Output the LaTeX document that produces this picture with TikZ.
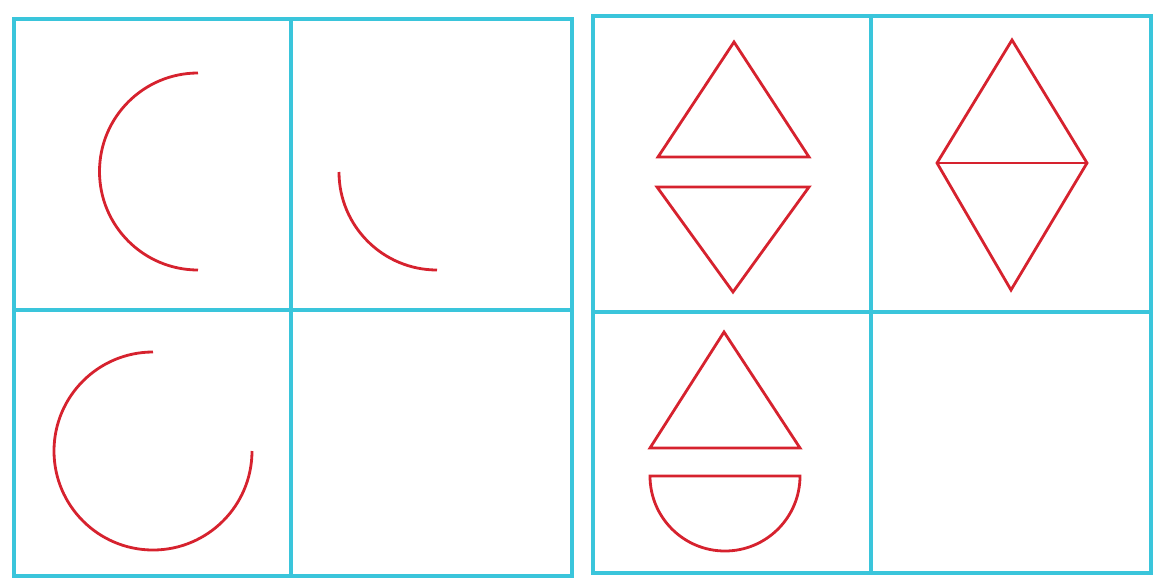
\documentclass[tikz,border=0pt]{standalone}
\usepackage{xcolor}
\usepackage{tikz}
\definecolor{GridCyan}{RGB}{58,197,219}
\definecolor{FigRed}{RGB}{214,34,46}
\tikzset{
  gridline/.style={draw=GridCyan, line width=4.2pt},
  figline/.style={draw=FigRed, line width=2.8pt}
}

\begin{document}
\begin{tikzpicture}[x=1pt,y=-1pt]
  \useasboundingbox (0,0) rectangle (1155,586);

  % ----- TWO GRIDS (frame, middle cross) -----
  \foreach \xa/\xb/\ya/\yb/\xm/\ym in {%
    14/572/19/576/291/310,
    593/1151/16/573/871/312}{%
    \draw[gridline] (\xa,\ya) rectangle (\xb,\yb);
    \draw[gridline, line width=3.4pt] (\xm,\ya) -- (\xm,\yb);
    \draw[gridline, line width=3.4pt] (\xa,\ym) -- (\xb,\ym);
  }%

  % ----- LEFT GRID: ARCS -----
  \draw[figline] (198,73) arc[start angle=270, end angle=90, radius=98.5];
  \draw[figline] (339,172) arc[start angle=180, end angle=90, radius=98];
  \draw[figline] (153,352) arc[start angle=270, end angle=0, radius=99];

  % ----- RIGHT GRID: TRIANGLES -----
  \draw[figline] (734,42) -- (809,157) -- (658,157) -- cycle;
  \draw[figline] (657,187) -- (809,187) -- (733,292) -- cycle;
  % diamond
  \draw[figline] (1012,40) -- (1087,163) -- (1011,290) -- (937,163) -- cycle;
  \draw[figline] (937,163) -- (1087,163);
  % triangle over half disc
  \draw[figline] (724,332) -- (800,448) -- (650,448) -- cycle;
  \draw[figline] (650,476) -- (800,476) arc[start angle=0, end angle=180, radius=75] -- cycle;
\end{tikzpicture}
\end{document}
